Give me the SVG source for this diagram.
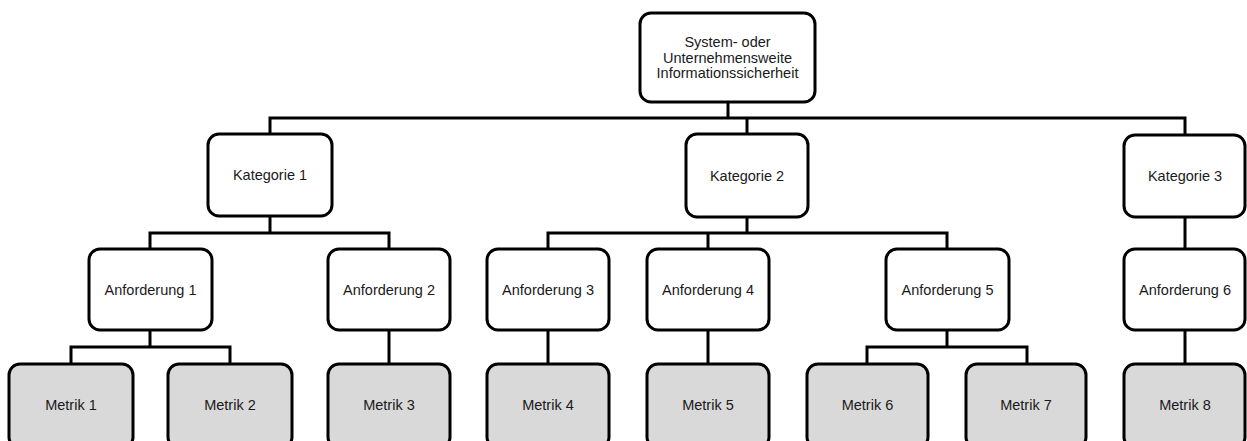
<svg xmlns="http://www.w3.org/2000/svg" width="1247" height="441" viewBox="0 0 1247 441">
  <style>
    .box { fill: #ffffff; stroke: #000000; stroke-width: 3; }
    .metric { fill: #d9d9d9; stroke: #000000; stroke-width: 3; }
    .link { fill: none; stroke: #000000; stroke-width: 3; stroke-linejoin: miter; }
    text { font-family: "Liberation Sans", Arial, sans-serif; font-size: 14.5px; fill: #1a1a1a; text-anchor: middle; dominant-baseline: central; }
  </style>
  <rect width="1247" height="441" fill="#ffffff"/>

  <!-- connectors -->
  <g id="connectors" class="link">
    <path d="M728 102 V118"/>
    <path d="M270 134 V118 H1185 V135"/>
    <path d="M747 118 V134"/>
    <path d="M270 216 V233"/>
    <path d="M150 249 V233 H389 V249"/>
    <path d="M747 217 V233"/>
    <path d="M548 249 V233 H947 V249"/>
    <path d="M708 233 V249"/>
    <path d="M1185 217 V249"/>
    <path d="M150 330 V347"/>
    <path d="M71 364 V347 H230 V364"/>
    <path d="M389 330 V364"/>
    <path d="M548 330 V364"/>
    <path d="M708 330 V364"/>
    <path d="M947 330 V347"/>
    <path d="M867 364 V347 H1027 V364"/>
    <path d="M1185 330 V364"/>
  </g>

  <!-- top level -->
  <g id="root">
    <rect class="box" x="640" y="13" width="175" height="89" rx="11"/>
    <text x="727.5" y="42">System- oder</text>
    <text x="727.5" y="57.5">Unternehmensweite</text>
    <text x="727.5" y="73">Informationssicherheit</text>
  </g>

  <!-- categories -->
  <g id="kat1">
    <rect class="box" x="208" y="134" width="124" height="82" rx="11"/>
    <text x="270" y="175">Kategorie 1</text>
  </g>
  <g id="kat2">
    <rect class="box" x="686" y="134" width="122" height="83" rx="11"/>
    <text x="747" y="175.5">Kategorie 2</text>
  </g>
  <g id="kat3">
    <rect class="box" x="1124" y="135" width="121" height="82" rx="11"/>
    <text x="1185" y="176">Kategorie 3</text>
  </g>

  <!-- requirements -->
  <g id="anf1">
    <rect class="box" x="89" y="249" width="123" height="81" rx="11"/>
    <text x="150.5" y="290">Anforderung 1</text>
  </g>
  <g id="anf2">
    <rect class="box" x="328" y="249" width="122" height="81" rx="11"/>
    <text x="389" y="290">Anforderung 2</text>
  </g>
  <g id="anf3">
    <rect class="box" x="487" y="249" width="122" height="81" rx="11"/>
    <text x="548" y="290">Anforderung 3</text>
  </g>
  <g id="anf4">
    <rect class="box" x="647" y="249" width="122" height="81" rx="11"/>
    <text x="708" y="290">Anforderung 4</text>
  </g>
  <g id="anf5">
    <rect class="box" x="886" y="249" width="123" height="81" rx="11"/>
    <text x="947.5" y="290">Anforderung 5</text>
  </g>
  <g id="anf6">
    <rect class="box" x="1124" y="249" width="121" height="81" rx="11"/>
    <text x="1185" y="290">Anforderung 6</text>
  </g>

  <!-- metrics -->
  <g id="metrik1">
    <rect class="metric" x="9" y="364" width="124" height="84" rx="11"/>
    <text x="71" y="405">Metrik 1</text>
  </g>
  <g id="metrik2">
    <rect class="metric" x="168" y="364" width="124" height="84" rx="11"/>
    <text x="230" y="405">Metrik 2</text>
  </g>
  <g id="metrik3">
    <rect class="metric" x="328" y="364" width="122" height="84" rx="11"/>
    <text x="389" y="405">Metrik 3</text>
  </g>
  <g id="metrik4">
    <rect class="metric" x="487" y="364" width="122" height="84" rx="11"/>
    <text x="548" y="405">Metrik 4</text>
  </g>
  <g id="metrik5">
    <rect class="metric" x="647" y="364" width="122" height="84" rx="11"/>
    <text x="708" y="405">Metrik 5</text>
  </g>
  <g id="metrik6">
    <rect class="metric" x="807" y="364" width="121" height="84" rx="11"/>
    <text x="867.5" y="405">Metrik 6</text>
  </g>
  <g id="metrik7">
    <rect class="metric" x="966" y="364" width="120" height="84" rx="11"/>
    <text x="1026" y="405">Metrik 7</text>
  </g>
  <g id="metrik8">
    <rect class="metric" x="1124" y="364" width="121" height="84" rx="11"/>
    <text x="1185" y="405">Metrik 8</text>
  </g>
</svg>
